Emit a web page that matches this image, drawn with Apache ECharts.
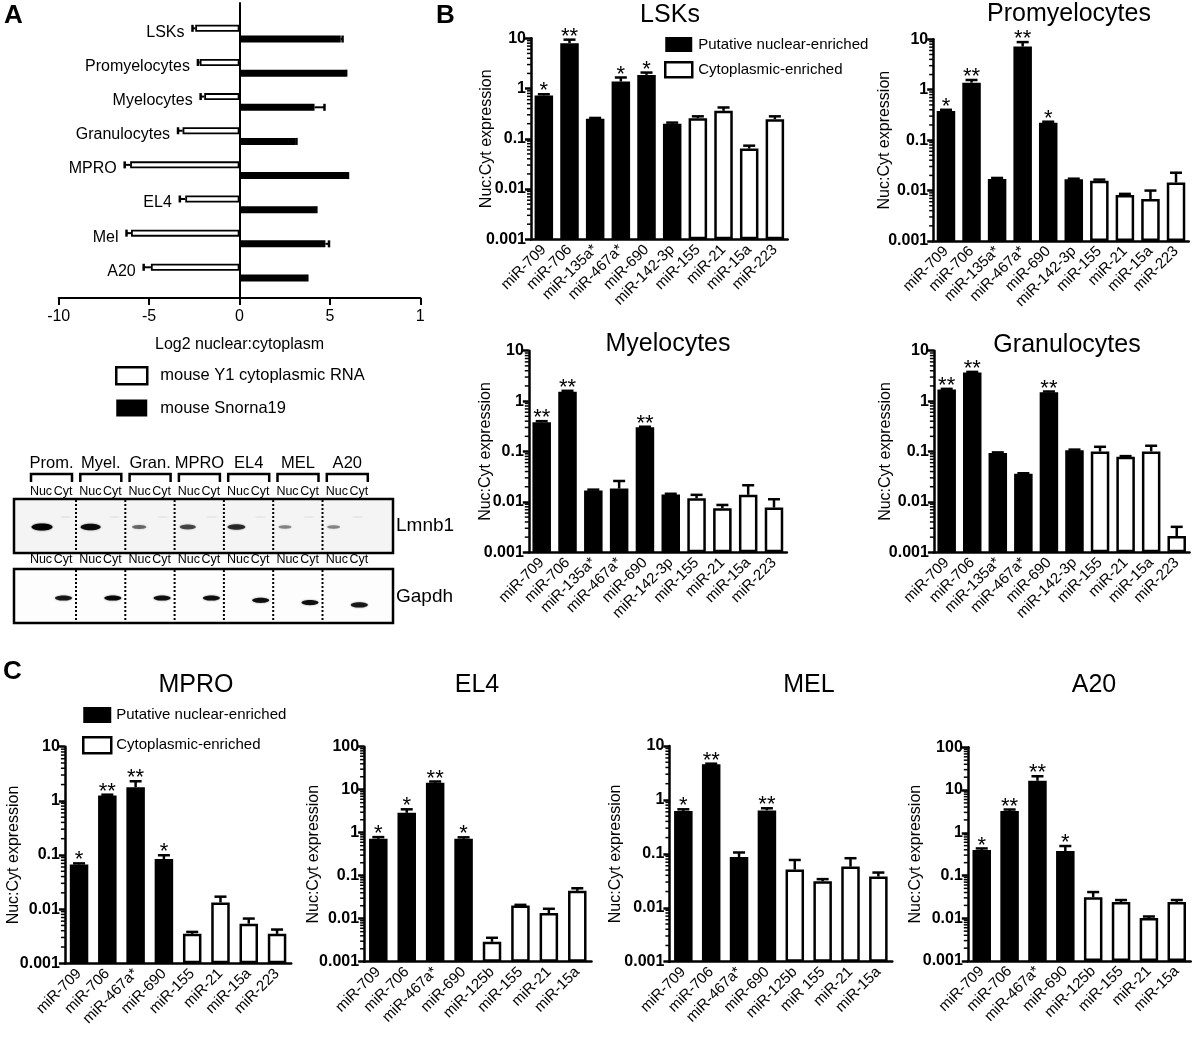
<!DOCTYPE html>
<html>
<head>
<meta charset="utf-8">
<title>Nuclear-enriched miRNAs</title>
<script src="https://cdn.jsdelivr.net/npm/echarts@6.0.0/dist/echarts.min.js"></script>
<style>
html,body{margin:0;padding:0;background:#fff;}
#chart{width:1200px;height:1040px;}
</style>
</head>
<body>
<div id="chart"></div>
<script>
// ---------------- Panel A data ----------------
const aCategories = ['LSKs','Promyelocytes','Myelocytes','Granulocytes','MPRO','EL4','Mel','A20'];
const aY1Values   = [-2.45,-2.2,-1.95,-3.15,-6.05,-3.0,-6.0,-4.9];
const aY1Errors   = [-2.6,-2.3,-2.15,-3.4,-6.35,-3.3,-6.25,-5.3];
const aSnoValues  = [5.6,5.85,4.15,3.1,5.95,4.2,4.75,3.7];
const aSnoErrors  = [5.7,5.9,4.7,3.15,6.0,4.25,4.95,3.75];
const aTickLabels = ['-10','-5','0','5','1'];

// ---------------- Panel B data ----------------
const bCategories = ['miR-709','miR-706','miR-135a*','miR-467a*','miR-690','miR-142-3p','miR-155','miR-21','miR-15a','miR-223'];
const bGroups     = ['n','n','n','n','n','n','c','c','c','c'];

const lskValues  = [0.73, 8.0, 0.25, 1.38, 1.87, 0.2, 0.257, 0.36, 0.064, 0.246];
const lskErrors  = [0.77, 9.4, 0.26, 1.66, 2.08, 0.21, 0.28, 0.42, 0.073, 0.28];
const lskSig     = ['*','**','','*','*','','','','',''];

const promValues = [0.38, 1.38, 0.017, 7.2, 0.222, 0.0167, 0.0157, 0.0082, 0.0068, 0.0144];
const promErrors = [0.40, 1.56, 0.0178, 8.8, 0.232, 0.0172, 0.0165, 0.0086, 0.0100, 0.0226];
const promSig    = ['*','**','','**','*','','','','',''];

const myelValues = [0.38, 1.53, 0.0168, 0.0184, 0.304, 0.014, 0.0118, 0.0075, 0.0138, 0.0077];
const myelErrors = [0.40, 1.6, 0.0175, 0.026, 0.31, 0.0145, 0.0138, 0.0087, 0.0214, 0.0113];
const myelSig    = ['**','**','','','**','','','','',''];

const granValues = [1.7, 3.7, 0.093, 0.036, 1.5, 0.106, 0.1, 0.079, 0.1, 0.0021];
const granErrors = [1.75, 3.8, 0.096, 0.037, 1.55, 0.109, 0.124, 0.081, 0.13, 0.0032];
const granSig    = ['**','**','','','**','','','','',''];

// ---------------- Panel C data ----------------
const mproCategories = ['miR-709','miR-706','miR-467a*','miR-690','miR-155','miR-21','miR-15a','miR-223'];
const el4Categories  = ['miR-709','miR-706','miR-467a*','miR-690','miR-125b','miR-155','miR-21','miR-15a'];
const melCategories  = ['miR-709','miR-706','miR-467a*','miR-690','miR-125b','miR 155','miR-21','miR-15a'];
const a20Categories  = ['miR-709','miR-706','miR-467a*','miR-690','miR-125b','miR-155','miR-21','miR-15a'];
const cGroups = ['n','n','n','n','c','c','c','c'];

const mproValues = [0.067, 1.25, 1.78, 0.084, 0.0035, 0.0133, 0.0054, 0.0035];
const mproErrors = [0.07, 1.3, 2.3, 0.099, 0.0038, 0.017, 0.0067, 0.0042];
const mproSig    = ['*','**','**','*','','','',''];

const el4Values  = [0.72, 2.9, 14.5, 0.72, 0.0029, 0.0204, 0.0135, 0.0445];
const el4Errors  = [0.79, 3.5, 15.5, 0.78, 0.0036, 0.021, 0.017, 0.051];
const el4Sig     = ['*','*','**','*','','','',''];

const melValues  = [0.62, 4.6, 0.087, 0.64, 0.051, 0.031, 0.058, 0.038];
const melErrors  = [0.67, 4.7, 0.106, 0.70, 0.077, 0.034, 0.083, 0.045];
const melSig     = ['*','**','','**','','','',''];

const a20Values  = [0.395, 3.25, 16.5, 0.375, 0.031, 0.024, 0.0102, 0.024];
const a20Errors  = [0.43, 3.5, 21, 0.49, 0.041, 0.0267, 0.011, 0.0267];
const a20Sig     = ['*','**','**','*','','','',''];

const yTickLabels = ['0.001','0.01','0.1','1','10','100'];
const minorMultipliers = [2,3,4,5,6,7,8,9];

// ---------------- Blot ----------------
const blotLanes = ['Prom.','Myel.','Gran.','MPRO','EL4','MEL','A20'];
const lmnb1Intensity = [1.0, 0.9, 0.25, 0.45, 0.65, 0.1, 0.1];
const gapdhIntensity = [0.85, 0.95, 0.9, 0.9, 0.9, 0.9, 0.85];

const FONT = '"Liberation Sans", Arial, Helvetica, sans-serif';
const NUC = 'Putative nuclear-enriched';
const CYT = 'Cytoplasmic-enriched';

const option = {
  animation: false,
  backgroundColor: '#fff',
  textStyle: { fontFamily: FONT, color: '#000' },
  grid: [], xAxis: [], yAxis: [], series: [], legend: [], graphic: []
};

// ---------- Panel A ----------
option.grid.push({ left: 58.7, top: 3, width: 361.6, height: 295 });
option.grid.push({ left: 58.7, top: 16.6, width: 361.6, height: 273.1 });
option.xAxis.push({
  gridIndex: 0, type: 'value', min: -10, max: 10, interval: 5,
  axisLine: { onZero: false, lineStyle: { color: '#000', width: 2 } },
  axisTick: { length: 7, lineStyle: { color: '#000', width: 2 } },
  axisLabel: { fontSize: 16, color: '#000', margin: 11, formatter: v => aTickLabels[Math.round((v + 10) / 5)] },
  splitLine: { show: false },
  name: 'Log2 nuclear:cytoplasm', nameLocation: 'middle', nameGap: 39, nameMoveOverlap: false,
  nameTextStyle: { fontSize: 16, color: '#000' }
});
option.yAxis.push({
  gridIndex: 0, type: 'value', min: 0, max: 1,
  axisLine: { show: true, onZero: true, lineStyle: { color: '#000', width: 2 } },
  axisTick: { show: false }, axisLabel: { show: false }, splitLine: { show: false }
});
option.xAxis.push({ gridIndex: 1, type: 'value', min: -10, max: 10, show: false, splitLine: { show: false } });
option.yAxis.push({ gridIndex: 1, type: 'category', data: aCategories, inverse: true, show: false });

const A_OFF = 5.35;
option.series.push({
  type: 'bar', name: 'mouse Y1 cytoplasmic RNA', xAxisIndex: 1, yAxisIndex: 1,
  data: aY1Values, barWidth: 7, barGap: '53%',
  itemStyle: { color: '#fff', borderColor: '#000', borderWidth: 1.8 }
});
option.series.push({
  type: 'bar', name: 'mouse Snorna19', xAxisIndex: 1, yAxisIndex: 1,
  data: aSnoValues, barWidth: 7, barGap: '53%',
  itemStyle: { color: '#000', borderColor: '#000', borderWidth: 1.8 }
});
function aErrSeries(vals, errs, off, withLabel) {
  return {
    type: 'custom', xAxisIndex: 1, yAxisIndex: 1, silent: true, z: 5,
    encode: { x: [1, 2], y: 0 },
    data: vals.map((v, i) => [i, v, errs[i]]),
    renderItem: (params, api) => {
      const i = api.value(0);
      const b = api.coord([api.value(1), i]);
      const e = api.coord([api.value(2), i]);
      const y = b[1] + off;
      const ch = [
        { type: 'line', shape: { x1: b[0], y1: y, x2: e[0], y2: y }, style: { stroke: '#000', lineWidth: 2 } },
        { type: 'line', shape: { x1: e[0], y1: y - 3.5, x2: e[0], y2: y + 3.5 }, style: { stroke: '#000', lineWidth: 2.5 } }
      ];
      if (withLabel) {
        ch.push({ type: 'text', style: { text: aCategories[i], x: e[0] - 8, y: y + 4, align: 'right', verticalAlign: 'middle', font: '16px ' + FONT, fill: '#000' } });
      }
      return { type: 'group', children: ch };
    }
  };
}
option.series.push(aErrSeries(aY1Values, aY1Errors, -A_OFF, true));
option.series.push(aErrSeries(aSnoValues, aSnoErrors, A_OFF, false));

option.legend.push({
  data: [
    { name: 'mouse Y1 cytoplasmic RNA', icon: 'rect', itemStyle: { color: '#fff', borderColor: '#000', borderWidth: 2.5 } },
    { name: 'mouse Snorna19', icon: 'rect', itemStyle: { color: '#000', borderColor: '#000', borderWidth: 0 } }
  ],
  orient: 'vertical', left: 115, top: 366, padding: 0,
  itemWidth: 31, itemHeight: 17, itemGap: 14, selectedMode: false,
  textStyle: { fontSize: 16.5, color: '#000', fontFamily: FONT, padding: [0, 0, 0, 8] }
});

// ---------- Log panels ----------
function addLogPanel(p) {
  const gi = option.grid.length;
  option.grid.push({ left: p.left, top: p.top, width: p.width, height: p.height });
  option.xAxis.push({
    gridIndex: gi, type: 'category', data: p.cats,
    axisLine: { lineStyle: { color: '#000', width: 2.5 } },
    axisTick: { alignWithLabel: true, length: 6, lineStyle: { color: '#000', width: 2.5 } },
    axisLabel: { rotate: 45, margin: 8, fontSize: 15, color: '#000', interval: 0, fontFamily: FONT },
    splitLine: { show: false }
  });
  option.yAxis.push({
    gridIndex: gi, type: 'log', logBase: 10, min: 0.001, max: p.max, startValue: 0.001,
    name: 'Nuc:Cyt expression', nameLocation: 'middle', nameGap: p.nameGap, nameMoveOverlap: false,
    nameTextStyle: { fontSize: 16, color: '#000', fontFamily: FONT },
    axisLine: { show: true, lineStyle: { color: '#000', width: 2.5 } },
    axisTick: { show: true, length: 6, lineStyle: { color: '#000', width: 2.5 } },
    axisLabel: { fontWeight: 'bold', fontSize: 16, color: '#000', margin: 5, fontFamily: FONT,
      formatter: v => yTickLabels[Math.round(Math.log10(v)) + 3] },
    splitLine: { show: false }
  });
  const nuc = p.vals.map((v, i) => p.groups[i] === 'n' ? v : '-');
  const cyt = p.vals.map((v, i) => p.groups[i] === 'c' ? v : '-');
  option.series.push({ type: 'bar', name: NUC, xAxisIndex: gi, yAxisIndex: gi, data: nuc,
    barWidth: 18.5, barGap: '-100%', itemStyle: { color: '#000', borderColor: '#000', borderWidth: 2.5 } });
  option.series.push({ type: 'bar', name: CYT, xAxisIndex: gi, yAxisIndex: gi, data: cyt,
    barWidth: 18.5, barGap: '-100%', itemStyle: { color: '#fff', borderColor: '#000', borderWidth: 2.5 } });
  option.series.push({
    type: 'custom', xAxisIndex: gi, yAxisIndex: gi, silent: true, z: 5,
    encode: { x: 0, y: [1, 2] },
    data: p.vals.map((v, i) => [i, v, p.errs[i]]),
    renderItem: (params, api) => {
      const i = api.value(0);
      const t = api.coord([i, api.value(1)]);
      const e = api.coord([i, api.value(2)]);
      const ch = [
        { type: 'line', shape: { x1: t[0], y1: t[1], x2: e[0], y2: e[1] }, style: { stroke: '#000', lineWidth: 2.5 } },
        { type: 'line', shape: { x1: e[0] - 6, y1: e[1], x2: e[0] + 6, y2: e[1] }, style: { stroke: '#000', lineWidth: 2.5 } }
      ];
      const s = p.sig[i];
      if (s) ch.push({ type: 'text', style: { text: s, x: e[0], y: e[1] - 3, align: 'center', verticalAlign: 'middle', font: '22px ' + FONT, fill: '#000' } });
      return { type: 'group', children: ch };
    }
  });
  const maxExp = Math.round(Math.log10(p.max));
  const minor = [];
  for (let k = -3; k < maxExp; k++) minorMultipliers.forEach(m => minor.push([0, m * Math.pow(10, k)]));
  option.series.push({
    type: 'custom', xAxisIndex: gi, yAxisIndex: gi, silent: true, z: 6, clip: false,
    encode: { x: 0, y: 1 }, data: minor,
    renderItem: (params, api) => {
      const y = api.coord([0, api.value(1)])[1];
      const x0 = params.coordSys.x;
      return { type: 'line', shape: { x1: x0 - 4, y1: y, x2: x0, y2: y }, style: { stroke: '#000', lineWidth: 1.5 } };
    }
  });
  option.graphic.push({ type: 'text', style: { text: p.title, x: p.tx, y: p.ty, align: 'center', verticalAlign: 'middle', font: '25px ' + FONT, fill: '#000' } });
}

addLogPanel({ cats: bCategories, groups: bGroups, vals: lskValues, errs: lskErrors, sig: lskSig,
  left: 531, top: 38.3, width: 256.7, height: 201, max: 10, nameGap: 36, title: 'LSKs', tx: 670, ty: 15 });
addLogPanel({ cats: bCategories, groups: bGroups, vals: promValues, errs: promErrors, sig: promSig,
  left: 933.2, top: 39.3, width: 255.6, height: 201.7, max: 10, nameGap: 41, title: 'Promyelocytes', tx: 1069, ty: 14 });
addLogPanel({ cats: bCategories, groups: bGroups, vals: myelValues, errs: myelErrors, sig: myelSig,
  left: 528.8, top: 350.7, width: 258.1, height: 201.6, max: 10, nameGap: 35, title: 'Myelocytes', tx: 668, ty: 344 });
addLogPanel({ cats: bCategories, groups: bGroups, vals: granValues, errs: granErrors, sig: granSig,
  left: 933.9, top: 350.7, width: 255.6, height: 201.6, max: 10, nameGap: 40, title: 'Granulocytes', tx: 1067, ty: 345 });
addLogPanel({ cats: mproCategories, groups: cGroups, vals: mproValues, errs: mproErrors, sig: mproSig,
  left: 64.9, top: 746.7, width: 226.3, height: 216.6, max: 10, nameGap: 43, title: 'MPRO', tx: 196, ty: 685 });
addLogPanel({ cats: el4Categories, groups: cGroups, vals: el4Values, errs: el4Errors, sig: el4Sig,
  left: 364.1, top: 746.7, width: 227.4, height: 215, max: 100, nameGap: 43, title: 'EL4', tx: 477, ty: 685 });
addLogPanel({ cats: melCategories, groups: cGroups, vals: melValues, errs: melErrors, sig: melSig,
  left: 669.4, top: 746, width: 222.9, height: 215.7, max: 10, nameGap: 46, title: 'MEL', tx: 809, ty: 685 });
addLogPanel({ cats: a20Categories, groups: cGroups, vals: a20Values, errs: a20Errors, sig: a20Sig,
  left: 967.8, top: 747.3, width: 222.9, height: 213.7, max: 100, nameGap: 44, title: 'A20', tx: 1094, ty: 685 });

const legendItems = [
  { name: NUC, icon: 'rect', itemStyle: { color: '#000', borderColor: '#000', borderWidth: 0 } },
  { name: CYT, icon: 'rect', itemStyle: { color: '#fff', borderColor: '#000', borderWidth: 2.5 } }
];
option.legend.push({ data: legendItems, orient: 'vertical', left: 664, top: 37, padding: 0,
  itemWidth: 27, itemHeight: 15, itemGap: 9, selectedMode: false,
  textStyle: { fontSize: 15, color: '#000', fontFamily: FONT, padding: [0, 0, 0, 1] } });
option.legend.push({ data: legendItems, orient: 'vertical', left: 82, top: 707, padding: 0,
  itemWidth: 28, itemHeight: 16, itemGap: 13, selectedMode: false,
  textStyle: { fontSize: 15, color: '#000', fontFamily: FONT, padding: [0, 0, 0, 0] } });

// ---------- Panel letters ----------
[['A', 4, 16], ['B', 436, 16], ['C', 3, 672]].forEach(([t, x, y]) => {
  option.graphic.push({ type: 'text', style: { text: t, x, y, align: 'left', verticalAlign: 'middle', font: 'bold 26px ' + FONT, fill: '#000' } });
});

// ---------- Western blot (graphic) ----------
const laneStep = 49.3;
blotLanes.forEach((name, i) => {
  const bx = 31 + laneStep * i;
  option.graphic.push({ type: 'text', style: { text: name, x: bx + 20.5, y: 463, align: 'center', verticalAlign: 'middle', font: '16.5px ' + FONT, fill: '#000' } });
  option.graphic.push({ type: 'polyline', shape: { points: [[bx, 482], [bx, 474], [bx + 41, 474], [bx + 41, 482]] }, style: { stroke: '#000', lineWidth: 2.5, fill: null } });
  [492, 560].forEach(y => {
    option.graphic.push({ type: 'text', style: { text: 'Nuc', x: bx + 10, y, align: 'center', verticalAlign: 'middle', font: '12.5px ' + FONT, fill: '#000' } });
    option.graphic.push({ type: 'text', style: { text: 'Cyt', x: bx + 32, y, align: 'center', verticalAlign: 'middle', font: '12.5px ' + FONT, fill: '#000' } });
  });
});
option.graphic.push({ type: 'rect', shape: { x: 14, y: 499, width: 379, height: 54 }, style: { fill: '#f4f4f4', stroke: '#000', lineWidth: 2.5 } });
option.graphic.push({ type: 'rect', shape: { x: 14, y: 569, width: 379, height: 54 }, style: { fill: '#fdfdfd', stroke: '#000', lineWidth: 2.5 } });
for (let k = 0; k < 6; k++) {
  const x = 76 + laneStep * k;
  [[500, 552], [570, 622]].forEach(([y1, y2]) => {
    option.graphic.push({ type: 'line', shape: { x1: x, y1, x2: x, y2 }, style: { stroke: '#000', lineWidth: 2, lineDash: [2, 2] } });
  });
}
lmnb1Intensity.forEach((I, i) => {
  option.graphic.push({ type: 'ellipse', shape: { cx: 42 + 48.6 * i, cy: 527, rx: (12 + 9 * I) / 2, ry: 1.5 + 2 * I },
    style: { fill: '#000', opacity: 0.3 + 0.7 * I, shadowBlur: 2, shadowColor: 'rgba(0,0,0,0.5)' } });
  option.graphic.push({ type: 'ellipse', shape: { cx: 66 + 48.6 * i, cy: 517, rx: 6, ry: 0.8 },
    style: { fill: '#000', opacity: 0.07 } });
});
gapdhIntensity.forEach((I, i) => {
  option.graphic.push({ type: 'ellipse', shape: { cx: 63.5 + laneStep * i, cy: 598 + Math.max(0, i - 3) * 2.3, rx: 8.5, ry: 2.6 },
    style: { fill: '#000', opacity: I, shadowBlur: 2, shadowColor: 'rgba(0,0,0,0.5)' } });
});
option.graphic.push({ type: 'text', style: { text: 'Lmnb1', x: 396, y: 526, align: 'left', verticalAlign: 'middle', font: '19px ' + FONT, fill: '#000' } });
option.graphic.push({ type: 'text', style: { text: 'Gapdh', x: 396, y: 597, align: 'left', verticalAlign: 'middle', font: '19px ' + FONT, fill: '#000' } });

const chart = echarts.init(document.getElementById('chart'), null, { renderer: 'canvas', width: 1200, height: 1040 });
chart.setOption(option);
</script>
</body>
</html>
